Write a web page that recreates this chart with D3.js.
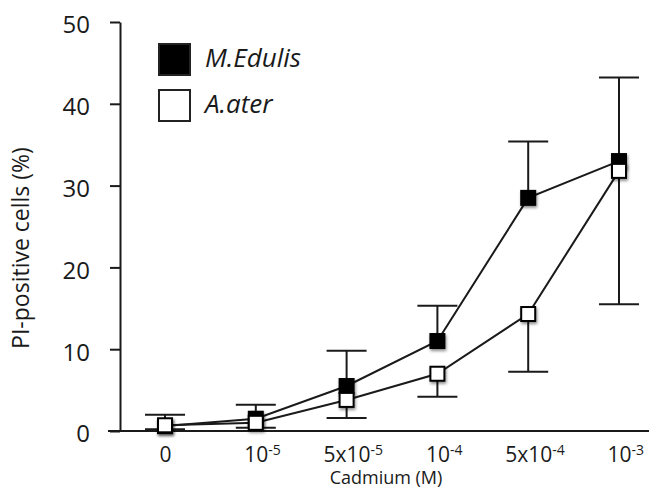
<!DOCTYPE html>
<html>
<head>
<meta charset="utf-8">
<script src="https://cdn.jsdelivr.net/npm/d3@7"></script>
<style>
  html, body { margin: 0; padding: 0; background: #fff; }
  svg { display: block; }
  text { font-family: "Open Sans", "DejaVu Sans", sans-serif; fill: #1a1a1a; }
</style>
</head>
<body>
<svg id="chart" width="649" height="492"></svg>
<script>
// Cadmium concentrations (x categories) and their tick labels (base + superscript exponent)
const categories = ["0", "1e-5", "5e-5", "1e-4", "5e-4", "1e-3"];
const tickBase = ["0", "10", "5x10", "10", "5x10", "10"];
const tickExp = ["", "-5", "-5", "-4", "-4", "-3"];

// PI-positive cells (%) per species
const edulis = [0.6, 1.5, 5.5, 11.0, 28.5, 33.0];
const edulisErrUp = [1.4, 1.7, 4.3, 4.3, 6.9, 10.2];
const ater = [0.7, 1.0, 3.8, 7.0, 14.3, 31.8];
const aterErrDown = [0.5, 0.6, 2.2, 2.8, 7.05, 16.3];

const yTicks = [0, 10, 20, 30, 40, 50];
const seriesNames = ["M.Edulis", "A.ater"];

const svg = d3.select("#chart");
const ink = "#1a1a1a";

const x = d3.scalePoint().domain(categories).range([165, 619]);
const y = d3.scaleLinear().domain([0, 50]).range([431, 22]);

// soft shadow under the square markers
const defs = svg.append("defs");
const f = defs.append("filter").attr("id", "shadow")
  .attr("x", "-50%").attr("y", "-50%").attr("width", "200%").attr("height", "200%");
f.append("feDropShadow").attr("dx", 1).attr("dy", 2).attr("stdDeviation", 1.6)
  .attr("flood-color", "#000").attr("flood-opacity", 0.45);

// y axis
const yAxis = svg.append("g").attr("transform", `translate(${x.range()[0] - 45},0)`)
  .call(d3.axisLeft(y).tickValues(yTicks).tickSize(10).tickSizeOuter(0).tickPadding(20));
yAxis.select(".domain").attr("stroke", ink).attr("stroke-width", 2);
yAxis.selectAll(".tick line").attr("stroke", ink).attr("stroke-width", 2);
yAxis.selectAll(".tick text").attr("font-size", 24).attr("dy", "0.45em")
  .attr("font-family", "Open Sans").attr("fill", ink);

// x axis baseline, running past the y axis and off the right edge
svg.append("line")
  .attr("x1", 108).attr("x2", 649)
  .attr("y1", y(0)).attr("y2", y(0))
  .attr("stroke", ink).attr("stroke-width", 2);

// x tick labels with superscript exponents
const xAxis = svg.append("g").attr("transform", `translate(0,${y(0)})`)
  .call(d3.axisBottom(x).tickSize(0).tickPadding(0).tickFormat(() => ""));
xAxis.select(".domain").remove();
xAxis.selectAll(".tick").each(function (d, i) {
  const t = d3.select(this).select("text")
    .attr("y", 31).attr("dy", 0).attr("text-anchor", "start")
    .attr("font-size", 21).attr("fill", ink);
  t.text(null);
  t.append("tspan").text(tickBase[i]);
  if (tickExp[i]) {
    t.append("tspan").attr("font-size", 14).attr("dy", -7).text(tickExp[i]);
  }
  // centre the label on its base part so the exponent hangs to the right
  const base = t.select("tspan").node().getComputedTextLength();
  t.attr("x", -base / 2);
});

// axis titles
svg.append("text")
  .attr("transform", `translate(29,248) rotate(-90)`)
  .attr("text-anchor", "middle").attr("font-size", 23)
  .text("PI-positive cells (%)");
svg.append("text")
  .attr("x", 386).attr("y", 484)
  .attr("text-anchor", "middle").attr("font-size", 18)
  .text("Cadmium (M)");

const capHalf = 20;
// error bars: upper for M.Edulis, lower for A.ater
const bars = categories.map((c, i) => ({
  c, top: edulis[i] + edulisErrUp[i], from: edulis[i]
})).concat(categories.map((c, i) => ({
  c, top: ater[i] - aterErrDown[i], from: ater[i]
})));
const eb = svg.append("g").attr("stroke", ink).attr("stroke-width", 2);
eb.selectAll("line.v").data(bars).join("line").attr("class", "v")
  .attr("x1", d => x(d.c)).attr("x2", d => x(d.c))
  .attr("y1", d => y(d.from)).attr("y2", d => y(d.top));
eb.selectAll("line.cap").data(bars).join("line").attr("class", "cap")
  .attr("x1", d => x(d.c) - capHalf).attr("x2", d => x(d.c) + capHalf)
  .attr("y1", d => y(d.top)).attr("y2", d => y(d.top));

// connecting lines
const line = d3.line().x(d => x(d.c)).y(d => y(d.v));
const series = [
  { name: seriesNames[0], fill: "#000", pts: categories.map((c, i) => ({ c, v: edulis[i] })) },
  { name: seriesNames[1], fill: "#fff", pts: categories.map((c, i) => ({ c, v: ater[i] })) }
];
svg.append("g").selectAll("path").data(series).join("path")
  .attr("d", d => line(d.pts)).attr("fill", "none")
  .attr("stroke", ink).attr("stroke-width", 2);

// square markers
const ms = 14;
series.forEach(s => {
  svg.append("g").selectAll("rect").data(s.pts).join("rect")
    .attr("x", d => x(d.c) - ms / 2).attr("y", d => y(d.v) - ms / 2)
    .attr("width", ms).attr("height", ms)
    .attr("fill", s.fill).attr("stroke", "#000").attr("stroke-width", 2)
    .attr("filter", "url(#shadow)");
});

// legend
const lg = svg.append("g").attr("transform", "translate(159,44)");
series.forEach((s, i) => {
  const row = lg.append("g").attr("transform", `translate(0,${i * 46})`);
  row.append("rect").attr("width", 31).attr("height", 31)
    .attr("fill", s.fill).attr("stroke", "#222").attr("stroke-width", 2);
  row.append("text").attr("x", 46).attr("y", 23)
    .attr("font-size", 26).attr("font-style", "italic").text(s.name);
});
</script>
</body>
</html>
